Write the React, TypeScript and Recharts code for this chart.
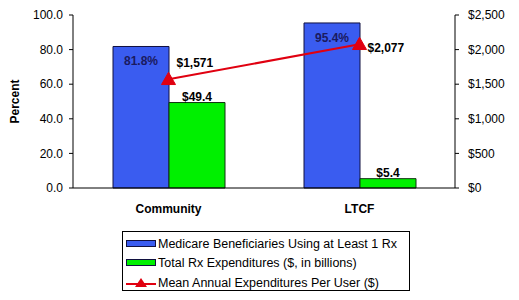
import React from "react";
import { ComposedChart, Bar, Line, XAxis, YAxis, LabelList } from "recharts";

const categories = ["Community", "LTCF"];
const beneficiariesPct = [81.8, 95.4];
const totalRxBillions = [49.4, 5.4];
const meanPerUser = [1571, 2077];
const leftTicks = [0, 20, 40, 60, 80, 100];
const rightTicks = [0, 500, 1000, 1500, 2000, 2500];

const data = categories.map((c, i) => ({
  name: c,
  pct: beneficiariesPct[i],
  total: totalRxBillions[i],
  mean: meanPerUser[i],
}));

const FONT = "'Liberation Sans', Arial, sans-serif";
const BLUE = "#3a5cf0";
const GREEN = "#00f000";
const RED = "#e00010";

const Triangle = (props: any) => {
  const { cx, cy } = props;
  if (cx == null || cy == null) return null;
  const s = 7;
  return (
    <path
      d={`M${cx},${cy - s} L${cx + s},${cy + s * 0.75} L${cx - s},${cy + s * 0.75} Z`}
      fill={RED}
      stroke={RED}
    />
  );
};

const fmtMoney = (v: number) => "$" + v.toLocaleString("en-US");

const PctLabel = (props: any) => {
  const { x, y, width, value } = props;
  return (
    <text x={x + width / 2} y={y + 19} textAnchor="middle" fontFamily={FONT} fontSize={12} fontWeight="bold" fill="#1a1a60">
      {value.toFixed(1)}%
    </text>
  );
};

const TotalLabel = (props: any) => {
  const { x, y, width, value } = props;
  return (
    <text x={x + width / 2} y={y - 2} textAnchor="middle" fontFamily={FONT} fontSize={12} fontWeight="bold" fill="#000">
      ${value.toFixed(1)}
    </text>
  );
};

const MeanLabel = (props: any) => {
  const { x, y, value, index } = props;
  const dy = index === 0 ? -12 : 8;
  return (
    <text x={x + 8} y={y + dy} textAnchor="start" fontFamily={FONT} fontSize={12} fontWeight="bold" fill="#000">
      {fmtMoney(value)}
    </text>
  );
};

const legendItems = [
  { label: "Medicare Beneficiaries Using at Least 1 Rx", type: "bar", color: BLUE },
  { label: "Total Rx Expenditures ($, in billions)", type: "bar", color: GREEN },
  { label: "Mean Annual Expenditures Per User ($)", type: "line", color: RED },
];

export default function App() {
  return (
    <div style={{ position: "absolute", left: 0, top: 0, width: 519, height: 300, background: "#fff" }}>
      <ComposedChart
        width={519}
        height={300}
        data={data}
        margin={{ top: 15, right: 0, bottom: 82, left: 0 }}
        barGap={0}
        barCategoryGap="21%"
      >
        <XAxis
          dataKey="name"
          axisLine={{ stroke: "#000" }}
          tickLine={false}
          height={30}
          tick={{ fontFamily: FONT, fontSize: 12, fontWeight: "bold", fill: "#000" }}
          dy={8}
        />
        <XAxis xAxisId="top" orientation="top" dataKey="name" tick={false} tickLine={false} height={0} axisLine={{ stroke: "#000" }} />
        <YAxis
          yAxisId="left"
          domain={[0, 100]}
          ticks={leftTicks}
          tickFormatter={(v: number) => v.toFixed(1)}
          width={73}
          tickSize={4}
          tickMargin={6}
          axisLine={{ stroke: "#000" }}
          tickLine={{ stroke: "#000" }}
          tick={{ fontFamily: FONT, fontSize: 12, fill: "#000" }}
          label={{ value: "Percent", angle: -90, position: "insideLeft", offset: 15, style: { fontFamily: FONT, fontSize: 12, fontWeight: "bold", fill: "#000", textAnchor: "middle" } }}
        />
        <YAxis
          yAxisId="right"
          orientation="right"
          domain={[0, 2500]}
          ticks={rightTicks}
          tickFormatter={fmtMoney}
          width={64}
          tickSize={4}
          tickMargin={9}
          axisLine={{ stroke: "#000" }}
          tickLine={{ stroke: "#000" }}
          tick={{ fontFamily: FONT, fontSize: 12, fill: "#000", textAnchor: "start" }}
        />
        <Bar yAxisId="left" dataKey="pct" fill={BLUE} stroke="#101040" strokeWidth={1} barSize={56} isAnimationActive={false}>
          <LabelList dataKey="pct" content={PctLabel} />
        </Bar>
        <Bar yAxisId="left" dataKey="total" fill={GREEN} stroke="#103010" strokeWidth={1} barSize={56} isAnimationActive={false}>
          <LabelList dataKey="total" content={TotalLabel} />
        </Bar>
        <Line
          yAxisId="right"
          dataKey="mean"
          stroke={RED}
          strokeWidth={2}
          dot={<Triangle />}
          activeDot={false}
          isAnimationActive={false}
        >
          <LabelList dataKey="mean" content={MeanLabel} />
        </Line>
      </ComposedChart>
      <div
        style={{
          position: "absolute",
          left: 122,
          top: 231,
          width: 288,
          height: 60,
          border: "1px solid #000",
          fontFamily: FONT,
          fontSize: 12.5,
          color: "#000",
          boxSizing: "border-box",
          paddingLeft: 3,
          paddingTop: 2,
        }}
      >
        {legendItems.map((it) => (
          <div key={it.label} style={{ display: "flex", alignItems: "center", height: 19.5, whiteSpace: "nowrap" }}>
            <svg width={32} height={14} style={{ flex: "none" }}>
              {it.type === "bar" ? (
                <rect x={0.5} y={3.5} width={29} height={6} fill={it.color} stroke="#101040" />
              ) : (
                <g>
                  <line x1={0} y1={8} x2={30} y2={8} stroke={RED} strokeWidth={2} />
                  <path d="M15,2 L21,11 L9,11 Z" fill={RED} />
                </g>
              )}
            </svg>
            <span>{it.label}</span>
          </div>
        ))}
      </div>
    </div>
  );
}
